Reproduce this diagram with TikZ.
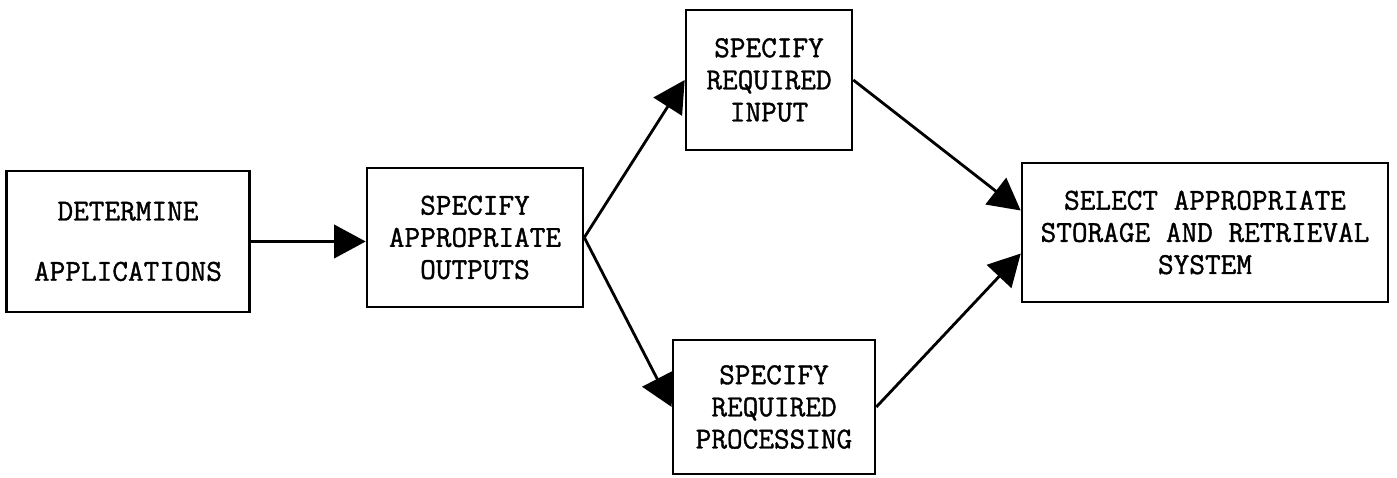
\documentclass[tikz,border=0pt]{standalone}
\usepackage{fontspec}
\newfontfamily\typer[FakeBold=1.2]{Latin Modern Mono}
\usetikzlibrary{arrows.meta}
\begin{document}
\begin{tikzpicture}[x=0.02cm,y=-0.02cm,
		box/.style={draw,line width=1.5pt,align=center,inner sep=0pt,
			font=\typer\fontsize{17.3}{18.3}\selectfont},
		flow/.style={line width=1.6pt,-{Triangle[length=18pt,width=19pt]}}]
		\useasboundingbox (0,0) rectangle (1397,477);
		\node[box,minimum width=4.86cm,minimum height=2.82cm] (det) at (128,241.5) {DETERMINE\\[16pt]APPLICATIONS};
		\node[box,minimum width=4.32cm,minimum height=2.78cm] (out) at (475,237.5) {SPECIFY\\APPROPRIATE\\OUTPUTS};
		\node[box,minimum width=3.32cm,minimum height=2.8cm] (inp) at (769,80) {SPECIFY\\REQUIRED\\INPUT};
		\node[box,minimum width=4.04cm,minimum height=2.68cm] (proc) at (774,407) {SPECIFY\\REQUIRED\\PROCESSING};
		\node[box,minimum width=7.32cm,minimum height=2.78cm] (sys) at (1205,232.5) {SELECT APPROPRIATE\\STORAGE AND RETRIEVAL\\SYSTEM};
		\draw[flow] (det.east) -- (det.east -| out.west);
		\draw[flow] (out.east) -- (inp.west);
		\draw[flow] (out.east) -- (proc.west);
		\draw[flow] (inp.east) -- ([yshift=0.44cm]sys.west);
		\draw[flow] (proc.east) -- ([yshift=-0.42cm]sys.west);
\end{tikzpicture}
\end{document}
